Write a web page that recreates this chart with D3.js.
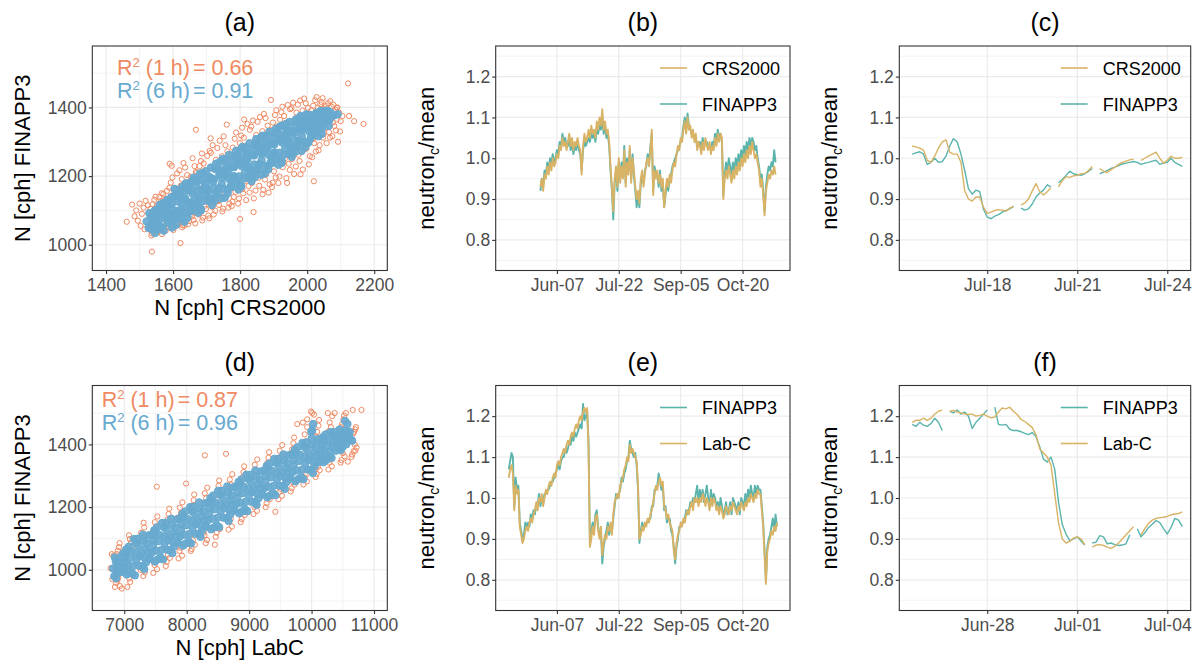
<!DOCTYPE html>
<html>
<head>
<meta charset="utf-8">
<title>Neutron counts: FINAPP3 vs CRS2000 and Lab-C</title>
<script src="https://cdn.jsdelivr.net/npm/d3@7"></script>
<style>
  body { margin: 0; background: #fff; }
  svg text { font-family: "Liberation Sans", Arial, sans-serif; }
</style>
</head>
<body>
<svg id="fig" width="1198" height="669"></svg>
<script>
// ---------------- data ----------------
// (a) hourly and 6-hourly counts, [CRS2000, FINAPP3]
const finVsCrs1h = [
  [1462,1067],[1478,1117],[1485,1083],[1490,1100],[1495,1070],[1500,1120],[1503,1055],[1507,1090],[1512,1108],[1515,1045],
  [1518,1128],[1537,980],[1525,1115],[1596,1230],[1590,1236],[1622,1005],[1668,1335],[1712,1310],[1760,1350],[1800,1075],
  [1812,1365],[1840,1095],[1892,1422],[2020,1185],[1940,1180],[1980,1205],
  [2090,1400],[2095,1385],[2092,1300],[2100,1360],[2105,1375],[2122,1470],[2125,1375],[2140,1360],[2168,1352],[2088,1365],[2098,1330],
  [1533,1105],[1544,1131],[1538,1118],[1548,1140],[1541,1038],[1535,1027],[1546,1045],[1537,1033],
  [1563,1127],[1552,1113],[1566,1150],[1559,1139],[1554,1046],[1567,1031],[1557,1039],[1569,1054],
  [1576,1131],[1589,1166],[1571,1148],[1582,1157],[1585,1052],[1578,1041],[1588,1060],[1574,1047],
  [1593,1181],[1604,1150],[1598,1196],[1608,1163],[1601,1043],[1595,1066],[1606,1054],[1597,1049],
  [1623,1172],[1612,1208],[1626,1191],[1619,1217],[1614,1063],[1627,1051],[1617,1074],[1629,1057],
  [1636,1225],[1649,1184],[1631,1238],[1642,1203],[1645,1060],[1638,1080],[1648,1069],[1634,1056],
  [1653,1198],[1664,1229],[1658,1252],[1668,1212],[1661,1072],[1655,1090],[1666,1062],[1657,1083],
  [1683,1244],[1672,1211],[1686,1266],[1679,1229],[1674,1099],[1687,1071],[1677,1088],[1689,1079],
  [1696,1218],[1709,1273],[1691,1237],[1702,1259],[1705,1085],[1698,1104],[1708,1077],[1694,1113],
  [1713,1268],[1724,1229],[1718,1290],[1728,1248],[1721,1088],[1715,1122],[1726,1099],[1717,1110],
  [1743,1240],[1732,1282],[1746,1258],[1739,1303],[1734,1127],[1747,1097],[1737,1116],[1749,1105],
  [1756,1290],[1769,1252],[1751,1316],[1762,1272],[1765,1108],[1758,1138],[1768,1120],[1754,1148],
  [1773,1262],[1784,1309],[1778,1283],[1788,1327],[1781,1139],[1775,1113],[1786,1154],[1777,1126],
  [1803,1318],[1792,1276],[1806,1341],[1799,1296],[1794,1120],[1807,1162],[1797,1135],[1809,1150],
  [1816,1288],[1829,1335],[1811,1312],[1822,1352],[1825,1171],[1818,1130],[1828,1152],[1814,1185],
  [1833,1344],[1844,1299],[1838,1362],[1848,1320],[1841,1135],[1835,1180],[1846,1158],[1837,1194],
  [1863,1308],[1852,1358],[1866,1331],[1859,1372],[1854,1195],[1867,1147],[1857,1172],[1869,1160],
  [1876,1369],[1889,1322],[1871,1381],[1882,1347],[1885,1152],[1878,1206],[1888,1176],[1874,1190],
  [1893,1334],[1904,1378],[1898,1356],[1908,1392],[1901,1214],[1895,1168],[1906,1196],[1897,1181],
  [1923,1386],[1912,1345],[1926,1402],[1919,1364],[1914,1180],[1927,1226],[1917,1199],[1929,1239],
  [1936,1355],[1949,1395],[1931,1375],[1942,1407],[1945,1236],[1938,1194],[1948,1218],[1934,1252],
  [1953,1398],[1964,1366],[1958,1414],[1968,1385],[1961,1206],[1955,1250],[1966,1228],[1957,1262],
  [1983,1374],[1972,1408],[1986,1391],[1979,1420],[1974,1262],[1987,1219],[1977,1244],[1989,1276],
  [1996,1412],[2009,1382],[1991,1426],[2002,1399],[2005,1234],[1998,1280],[2008,1258],[1994,1292],
  [2013,1391],[2024,1421],[2018,1405],[2028,1430],[2021,1296],[2015,1255],[2026,1272],[2017,1308],
  [2043,1416],[2032,1400],[2046,1427],[2039,1409],[2034,1275],[2047,1312],[2037,1290],[2049,1322],
  [2056,1404],[2069,1418],[2051,1396],[2062,1412],[2065,1328],[2058,1296],[2068,1312],[2054,1340],
  [2073,1402],[2084,1394],[2078,1408],[2088,1399],[2081,1346],[2075,1316],[2086,1333],[2077,1356]
];
const finVsCrs6h = [
  [1521,1068],[1527,1049],[1533,1083],[1536,1058],[1529,1092],[1540,1071],
  [1546,1034],[1552,1061],[1549,1088],[1557,1103],[1543,1074],[1555,1046],
  [1563,1052],[1569,1121],[1574,1076],[1577,1098],[1566,1106],[1572,1041],[1561,1085],
  [1584,1063],[1595,1139],[1588,1092],[1598,1071],[1591,1117],[1583,1131],[1597,1050],
  [1603,1078],[1617,1152],[1607,1099],[1614,1126],[1609,1058],[1619,1085],[1604,1163],
  [1626,1091],[1634,1067],[1622,1144],[1638,1112],[1629,1170],[1636,1135],[1624,1104],
  [1643,1079],[1655,1121],[1647,1178],[1658,1149],[1651,1098],[1645,1160],[1657,1186],
  [1664,1118],[1675,1093],[1668,1171],[1677,1137],[1662,1196],[1672,1155],[1679,1108],
  [1683,1104],[1694,1145],[1687,1209],[1697,1178],[1689,1127],[1681,1188],[1699,1160],
  [1704,1139],[1716,1116],[1708,1198],[1713,1225],[1702,1164],[1719,1183],[1706,1131],
  [1724,1128],[1735,1162],[1728,1236],[1738,1205],[1722,1190],[1733,1148],[1740,1219],
  [1745,1177],[1754,1137],[1748,1250],[1757,1215],[1742,1206],[1752,1162],[1760,1231],
  [1763,1150],[1774,1187],[1767,1262],[1778,1229],[1765,1213],[1772,1171],[1780,1244],
  [1784,1198],[1795,1161],[1788,1274],[1797,1240],[1782,1226],[1792,1183],[1799,1256],
  [1803,1172],[1814,1210],[1807,1285],[1818,1251],[1801,1236],[1812,1193],[1820,1268],
  [1825,1224],[1834,1185],[1828,1296],[1838,1262],[1822,1249],[1832,1207],[1840,1279],
  [1844,1197],[1855,1233],[1848,1308],[1858,1274],[1842,1260],[1852,1218],[1860,1290],
  [1864,1246],[1874,1208],[1867,1318],[1877,1284],[1862,1270],[1871,1229],[1880,1300],
  [1884,1220],[1894,1256],[1887,1329],[1897,1296],[1882,1282],[1891,1240],[1899,1312],
  [1903,1268],[1914,1233],[1907,1338],[1917,1306],[1902,1292],[1911,1252],[1920,1322],
  [1924,1244],[1934,1280],[1927,1348],[1937,1317],[1922,1304],[1931,1262],[1940,1333],
  [1944,1291],[1954,1256],[1947,1358],[1957,1328],[1942,1314],[1951,1274],[1960,1343],
  [1964,1270],[1974,1303],[1967,1366],[1977,1338],[1962,1325],[1971,1288],[1980,1353],
  [1984,1316],[1994,1284],[1987,1372],[1997,1348],[1982,1336],[1991,1300],[2000,1362],
  [2003,1297],[2014,1327],[2007,1378],[2017,1357],[2002,1345],[2011,1312],[2020,1368],
  [2024,1340],[2034,1316],[2027,1384],[2037,1366],[2022,1352],[2031,1328],[2040,1375],
  [2044,1338],[2054,1358],[2047,1388],[2057,1372],[2042,1350],[2060,1380],
  [2066,1362],[2075,1374],[2069,1386],[2082,1378],[2091,1380],[2062,1368],
  [1534,1046],[1542,1065],[1537,1082],[1545,1099],[1547,1054],
  [1556,1070],[1565,1088],[1552,1103],[1563,1052],[1560,1116],
  [1573,1096],[1584,1072],[1580,1111],[1586,1090],[1578,1124],
  [1594,1072],[1602,1098],[1597,1120],[1605,1143],[1607,1084],
  [1616,1099],[1625,1123],[1612,1144],[1623,1075],[1620,1161],
  [1633,1133],[1644,1093],[1640,1157],[1646,1123],[1638,1179],
  [1654,1098],[1662,1130],[1657,1158],[1665,1186],[1667,1112],
  [1676,1130],[1685,1160],[1672,1186],[1683,1100],[1680,1207],
  [1693,1168],[1704,1128],[1700,1192],[1706,1158],[1698,1214],
  [1714,1133],[1722,1165],[1717,1193],[1725,1221],[1727,1147],
  [1736,1165],[1745,1195],[1732,1221],[1743,1135],[1740,1242],
  [1753,1202],[1764,1162],[1760,1226],[1766,1192],[1758,1248],
  [1774,1168],[1782,1200],[1777,1228],[1785,1256],[1787,1182],
  [1796,1199],[1805,1229],[1792,1255],[1803,1169],[1800,1276],
  [1813,1237],[1824,1197],[1820,1261],[1826,1227],[1818,1283],
  [1834,1202],[1842,1234],[1837,1262],[1845,1290],[1847,1216],
  [1856,1234],[1865,1264],[1852,1290],[1863,1204],[1860,1311],
  [1873,1271],[1884,1231],[1880,1295],[1886,1261],[1878,1317],
  [1894,1237],[1902,1269],[1897,1297],[1905,1325],[1907,1251],
  [1916,1268],[1925,1298],[1912,1324],[1923,1238],[1920,1345],
  [1933,1306],[1944,1266],[1940,1330],[1946,1296],[1938,1352],
  [1954,1271],[1962,1303],[1957,1331],[1965,1359],[1967,1285],
  [1976,1303],[1985,1333],[1972,1359],[1983,1273],[1980,1375],
  [1993,1340],[2004,1300],[2000,1364],[2006,1330],[1998,1380],
  [2014,1319],[2022,1341],[2017,1361],[2025,1380],[2027,1328],
  [2036,1344],[2045,1365],[2032,1383],[2043,1323],[2040,1390],
  [2053,1374],[2064,1346],[2060,1391],[2066,1367],[2058,1388]
];

// (d) hourly and 6-hourly counts, [LabC, FINAPP3]
const finVsLab1h = [
  [6780,1005],[6800,1050],[6810,970],[6830,1045],[6850,945],[6960,940],[7050,945],[7520,1265],[7990,1275],[8290,1365],
  [8450,1080],[8630,1370],[9420,1185],[9770,1465],[9860,1470],[10010,1500],[9990,1505],[10060,1320],[10260,1500],[10370,1500],
  [10550,1500],[10660,1510],[10800,1510],[10700,1380],[10640,1360],[10580,1345],[10040,1495],[9930,1480],
  [6880,1050],[6915,1072],[6895,1061],[6925,1085],[6905,975],[6870,958],[6930,948],[6890,966],
  [7110,1088],[7075,1110],[7125,1076],[7090,1098],[7080,972],[7120,990],[7095,961],[7135,982],
  [7285,1102],[7320,1135],[7270,1118],[7310,1150],[7330,992],[7280,1005],[7305,980],[7260,1000],
  [7510,1138],[7470,1125],[7530,1170],[7490,1152],[7485,1015],[7525,1002],[7500,1025],[7465,990],
  [7690,1160],[7720,1195],[7675,1148],[7710,1178],[7730,1038],[7680,1025],[7700,1048],[7665,1012],
  [7910,1182],[7875,1168],[7930,1215],[7890,1198],[7885,1060],[7925,1045],[7905,1070],[7870,1036],
  [8090,1205],[8120,1240],[8075,1192],[8110,1222],[8130,1080],[8080,1066],[8100,1094],[8065,1060],
  [8310,1228],[8275,1212],[8330,1262],[8290,1244],[8285,1110],[8325,1095],[8305,1085],[8270,1118],
  [8490,1250],[8520,1285],[8475,1238],[8510,1268],[8530,1130],[8480,1118],[8500,1140],[8465,1105],
  [8710,1272],[8675,1258],[8730,1305],[8690,1288],[8685,1155],[8725,1138],[8705,1162],[8670,1128],
  [8890,1295],[8920,1330],[8875,1282],[8910,1312],[8930,1175],[8880,1162],[8900,1185],[8865,1152],
  [9110,1318],[9075,1302],[9130,1352],[9090,1335],[9085,1200],[9125,1188],[9105,1210],[9070,1178],
  [9290,1340],[9320,1375],[9275,1328],[9310,1358],[9330,1225],[9280,1212],[9300,1236],[9265,1200],
  [9510,1362],[9475,1348],[9530,1398],[9490,1380],[9485,1248],[9525,1236],[9505,1258],[9470,1225],
  [9690,1385],[9720,1422],[9675,1372],[9710,1404],[9730,1272],[9680,1260],[9700,1280],[9665,1250],
  [9910,1410],[9875,1396],[9930,1455],[9890,1432],[9885,1295],[9925,1282],[9905,1302],[9870,1272],
  [10090,1440],[10120,1478],[10075,1425],[10110,1460],[10130,1318],[10080,1306],[10100,1328],[10065,1296],
  [10310,1455],[10275,1442],[10330,1490],[10290,1470],[10285,1342],[10325,1330],[10305,1352],[10270,1320],
  [10490,1465],[10520,1492],[10475,1455],[10510,1480],[10530,1362],[10480,1350],[10500,1372],[10465,1342],
  [10680,1440],[10710,1455],[10665,1435],[10700,1448],[10720,1390],[10675,1378],[10690,1400],[10650,1368]
];
const finVsLab6h = [
  [6820,1004],[6840,979],[6865,1027],[6880,994],[6850,1039],[6890,1012],[6870,973],
  [6960,993],[6985,1053],[7010,1025],[7030,1065],[6995,1009],[7040,985],[7015,1039],
  [7115,1060],[7145,1012],[7170,982],[7185,1085],[7155,1098],[7195,1032],[7130,988],
  [7270,1054],[7290,1012],[7315,1092],[7330,1037],[7300,1112],[7340,1067],[7320,1002],
  [7410,1036],[7435,1111],[7460,1076],[7480,1126],[7445,1056],[7490,1026],[7465,1094],
  [7565,1111],[7595,1063],[7620,1033],[7635,1136],[7605,1149],[7645,1083],[7580,1039],
  [7720,1105],[7740,1063],[7765,1143],[7780,1088],[7750,1163],[7790,1118],[7770,1053],
  [7860,1087],[7885,1162],[7910,1127],[7930,1177],[7895,1107],[7940,1077],[7915,1145],
  [8015,1162],[8045,1114],[8070,1084],[8085,1187],[8055,1200],[8095,1134],[8030,1090],
  [8170,1157],[8190,1115],[8215,1195],[8230,1140],[8200,1215],[8240,1170],[8220,1105],
  [8310,1139],[8335,1214],[8360,1179],[8380,1229],[8345,1159],[8390,1129],[8365,1197],
  [8465,1214],[8495,1166],[8520,1136],[8535,1239],[8505,1252],[8545,1186],[8480,1142],
  [8620,1208],[8640,1166],[8665,1246],[8680,1191],[8650,1266],[8690,1221],[8670,1156],
  [8760,1190],[8785,1265],[8810,1230],[8830,1280],[8795,1210],[8840,1180],[8815,1248],
  [8915,1265],[8945,1217],[8970,1187],[8985,1290],[8955,1303],[8995,1237],[8930,1193],
  [9070,1259],[9090,1217],[9115,1297],[9130,1242],[9100,1317],[9140,1272],[9120,1207],
  [9210,1241],[9235,1316],[9260,1281],[9280,1331],[9245,1261],[9290,1231],[9265,1299],
  [9365,1316],[9395,1268],[9420,1238],[9435,1341],[9405,1354],[9445,1288],[9380,1244],
  [9520,1310],[9540,1268],[9565,1348],[9580,1293],[9550,1368],[9590,1323],[9570,1258],
  [9660,1292],[9685,1367],[9710,1332],[9730,1382],[9695,1312],[9740,1282],[9715,1350],
  [9815,1367],[9845,1319],[9870,1289],[9885,1392],[9855,1405],[9895,1339],[9830,1295],
  [9970,1361],[9990,1319],[10015,1399],[10030,1344],[10000,1419],[10040,1374],[10020,1309],[10010,1445],[10025,1465],[9995,1440],
  [10110,1351],[10135,1411],[10160,1383],[10180,1423],[10145,1367],[10190,1343],[10165,1397],
  [10265,1412],[10295,1378],[10320,1357],[10335,1430],[10305,1439],[10345,1392],[10280,1362],
  [10420,1413],[10440,1388],[10465,1436],[10480,1403],[10450,1448],[10490,1421],[10470,1382],
  [10540,1410],[10560,1438],[10590,1428],[10620,1418],[10650,1412],[10575,1465],[10535,1475],[10610,1440],
  [6900,990],[6930,1009],[6915,1026],[6945,1041],[6955,997],
  [7060,1014],[7095,1038],[7045,1059],[7085,992],[7075,1074],
  [7195,1054],[7240,1013],[7225,1077],[7250,1044],[7215,1099],
  [7350,1024],[7380,1056],[7365,1084],[7395,1110],[7405,1036],
  [7510,1061],[7545,1091],[7495,1117],[7535,1033],[7525,1135],
  [7645,1105],[7690,1064],[7675,1128],[7700,1095],[7665,1150],
  [7800,1075],[7830,1107],[7815,1135],[7845,1161],[7855,1087],
  [7960,1112],[7995,1142],[7945,1168],[7985,1084],[7975,1186],
  [8095,1156],[8140,1115],[8125,1179],[8150,1146],[8115,1201],
  [8250,1126],[8280,1158],[8265,1186],[8295,1212],[8305,1138],
  [8410,1163],[8445,1193],[8395,1219],[8435,1135],[8425,1237],
  [8545,1207],[8590,1166],[8575,1230],[8600,1197],[8565,1252],
  [8700,1177],[8730,1209],[8715,1237],[8745,1263],[8755,1189],
  [8860,1214],[8895,1244],[8845,1270],[8885,1186],[8875,1288],
  [8995,1258],[9040,1217],[9025,1281],[9050,1248],[9015,1303],
  [9150,1228],[9180,1260],[9165,1288],[9195,1314],[9205,1240],
  [9310,1265],[9345,1295],[9295,1321],[9335,1237],[9325,1339],
  [9445,1309],[9490,1268],[9475,1332],[9500,1299],[9465,1354],
  [9600,1280],[9630,1312],[9615,1340],[9645,1366],[9655,1292],
  [9760,1317],[9795,1347],[9745,1373],[9785,1289],[9775,1391],
  [9895,1361],[9940,1320],[9925,1384],[9950,1351],[9915,1406],
  [10050,1331],[10080,1363],[10065,1391],[10095,1417],[10105,1343],
  [10210,1372],[10245,1396],[10195,1417],[10235,1350],[10225,1432],
  [10345,1409],[10390,1380],[10375,1425],[10400,1402],[10365,1440],
  [10500,1393],[10530,1412],[10515,1429],[10545,1444],[10555,1400]
];

// (b) daily normalised counts, day 0 = Jun-07, first value at day -12
const bStartDay = -12;
const bCRS2000 = [
  0.93,0.95,0.92,0.96,0.95,0.98,0.96,0.99,0.97,1.00,
  0.98,0.99,1.01,1.00,1.03,1.02,1.05,1.03,1.04,1.02,
  1.04,1.06,1.03,1.05,1.02,1.04,1.03,1.05,1.03,1.02,
  0.96,1.03,1.06,1.04,1.05,1.07,1.05,1.08,1.06,1.07,
  1.05,1.09,1.07,1.10,1.08,1.12,1.07,1.09,1.06,1.07,
  1.04,0.98,0.93,0.87,0.95,0.98,0.93,1.00,0.94,0.98,
  0.95,1.02,0.93,0.99,0.96,1.03,0.94,1.00,0.97,0.93,
  0.90,0.92,0.89,0.95,0.97,0.93,0.96,0.99,1.00,0.98,
  1.02,1.07,0.91,0.97,0.95,0.97,0.94,0.96,0.93,0.95,
  0.88,0.92,0.95,0.93,0.96,0.94,0.97,0.99,0.98,1.01,
  1.03,1.02,1.05,1.04,1.07,1.09,1.06,1.10,1.07,1.08,
  1.05,1.07,1.04,1.06,1.02,1.04,1.03,1.01,1.04,1.02,
  1.05,1.03,1.02,1.04,1.01,1.03,1.02,1.05,1.03,1.06,
  1.04,1.06,1.05,0.90,0.95,0.97,0.95,0.98,0.96,0.94,
  0.97,0.95,0.98,0.96,0.99,0.97,1.00,0.98,1.01,0.99,
  1.02,1.00,1.03,1.01,1.04,1.02,1.00,1.01,0.99,0.97,
  0.93,0.95,0.91,0.86,0.92,0.94,0.96,0.95,0.97,0.96,
  0.98,0.96
];
const bFINAPP3 = [
  0.92,0.95,0.93,0.97,0.96,0.99,0.97,1.00,0.99,1.01,
  0.99,1.00,1.02,1.01,1.04,1.03,1.06,1.04,1.05,1.03,
  1.03,1.05,1.02,1.04,1.01,1.03,1.02,1.04,1.02,1.01,
  0.97,1.02,1.04,1.03,1.04,1.05,1.04,1.06,1.05,1.06,
  1.04,1.07,1.06,1.08,1.07,1.10,1.06,1.08,1.05,1.06,
  1.03,0.97,0.92,0.85,0.94,0.97,0.92,0.99,0.95,0.99,
  0.96,1.03,0.94,1.00,0.97,1.02,0.95,1.01,0.96,0.92,
  0.88,0.91,0.88,0.94,0.96,0.94,0.97,0.98,1.01,0.99,
  1.03,1.06,0.92,0.98,0.96,0.96,0.93,0.97,0.92,0.94,
  0.88,0.91,0.94,0.92,0.95,0.96,0.98,0.99,1.00,1.01,
  1.02,1.03,1.04,1.05,1.08,1.10,1.07,1.11,1.08,1.07,
  1.06,1.06,1.05,1.05,1.03,1.03,1.04,1.02,1.05,1.03,
  1.04,1.04,1.03,1.03,1.02,1.04,1.03,1.06,1.04,1.07,
  1.05,1.06,1.04,0.91,0.96,0.99,0.97,1.00,0.98,0.96,
  0.99,0.97,1.00,0.98,1.01,0.99,1.02,1.00,1.03,1.01,
  1.04,1.02,1.05,1.03,1.05,1.04,1.02,1.03,1.00,0.98,
  0.95,0.96,0.92,0.87,0.93,0.96,0.98,0.97,0.99,0.98,
  1.02,0.99
];

// (e) day 0 = Jun-07, first value at day -35
const eStartDay = -35;
const eFINAPP3 = [
  1.07,1.09,1.11,1.10,0.98,1.05,1.02,1.03,0.94,0.92,
  0.90,0.91,0.94,0.93,0.94,0.93,0.96,0.95,0.97,0.96,
  0.98,0.98,1.01,0.98,1.00,0.99,1.01,1.01,1.02,1.02,
  1.03,1.04,1.04,1.05,1.06,1.07,1.08,1.07,1.09,1.10,
  1.10,1.12,1.11,1.12,1.14,1.13,1.15,1.14,1.16,1.15,
  1.16,1.17,1.18,1.17,1.23,1.19,1.20,1.21,1.14,0.89,
  0.92,0.94,0.92,0.96,0.97,0.93,0.91,0.92,0.84,0.88,
  0.90,0.92,0.94,0.91,0.93,0.92,0.95,0.98,1.01,1.00,
  1.01,1.02,1.05,1.04,1.06,1.07,1.09,1.10,1.14,1.12,
  1.11,1.10,1.11,1.08,1.02,0.89,0.92,0.94,0.93,0.93,
  0.94,0.94,0.95,0.95,0.98,0.98,1.02,1.02,1.03,1.06,
  1.04,1.02,1.03,0.97,0.98,0.94,0.95,0.95,0.92,0.91,
  0.88,0.84,0.88,0.90,0.93,0.93,0.94,0.94,0.95,0.97,
  0.96,0.97,0.99,0.98,1.00,0.99,1.01,1.03,0.99,1.02,
  1.00,1.02,0.99,1.01,1.03,1.00,0.98,1.02,0.99,1.01,
  1.00,0.98,0.99,0.97,1.00,0.98,0.96,0.97,0.99,0.96,
  0.97,0.99,0.96,1.00,0.99,0.98,0.97,0.99,0.96,1.00,
  0.99,0.98,1.01,0.99,1.02,1.00,1.03,1.01,1.00,1.03,
  1.01,1.03,1.02,1.02,0.98,0.94,0.87,0.80,0.88,0.90,
  0.91,0.93,0.95,0.92,0.96,0.93
];
const eLabC = [
  1.05,1.07,1.08,1.06,0.97,1.03,1.01,1.02,0.93,0.91,
  0.89,0.90,0.92,0.93,0.92,0.94,0.95,0.94,0.96,0.97,
  0.99,0.97,1.00,0.99,1.01,0.98,1.00,1.02,1.01,1.03,
  1.04,1.03,1.05,1.06,1.05,1.08,1.09,1.08,1.10,1.11,
  1.12,1.11,1.13,1.14,1.13,1.15,1.16,1.15,1.17,1.18,
  1.17,1.19,1.20,1.19,1.21,1.22,1.21,1.22,1.12,0.88,
  0.90,0.93,0.91,0.95,0.96,0.92,0.90,0.93,0.86,0.89,
  0.91,0.90,0.93,0.92,0.94,0.91,0.96,0.99,1.00,1.01,
  1.00,1.03,1.04,1.05,1.07,1.08,1.10,1.09,1.13,1.11,
  1.12,1.11,1.10,1.09,1.03,0.90,0.91,0.93,0.92,0.94,
  0.93,0.95,0.94,0.96,0.97,0.99,1.01,1.03,1.02,1.04,
  1.05,1.03,1.04,0.98,0.97,0.95,0.96,0.94,0.93,0.92,
  0.87,0.85,0.89,0.91,0.92,0.94,0.93,0.95,0.94,0.96,
  0.97,0.96,0.98,0.99,0.97,1.00,0.99,1.00,0.98,1.00,
  0.99,1.01,1.00,0.98,1.00,0.99,0.97,1.00,0.98,1.00,
  0.99,0.97,0.98,0.96,0.98,0.97,0.95,0.96,0.98,0.97,
  0.96,0.98,0.97,0.99,0.98,0.97,0.96,0.98,0.97,0.99,
  0.98,0.97,0.99,0.98,1.00,0.99,1.01,1.00,0.99,1.01,
  1.00,1.02,1.01,1.01,0.97,0.93,0.86,0.79,0.87,0.89,
  0.90,0.92,0.91,0.93,0.92,0.94
];

// (c) 3-hourly, day 0 = Jul-18, first value at day -2.5 (null = gap)
const cStartDay = -2.5;
const cCRS2000 = [
  1.030,1.028,1.025,1.020,0.995,0.990,1.005,1.025,1.040,1.045,
  1.015,1.010,1.010,0.990,0.920,0.900,0.895,0.905,0.905,0.880,
  0.865,0.868,0.872,0.874,0.873,0.870,0.878,0.882,null,0.886,
  0.890,0.900,0.920,0.938,0.918,0.910,0.918,0.928,null,0.930,
  0.945,0.955,0.953,0.957,0.958,0.962,0.963,0.970,0.980,null,
  0.975,0.968,0.965,0.972,0.978,0.985,0.990,0.993,0.996,0.998,
  null,0.995,1.000,1.005,1.010,1.015,1.000,0.988,0.995,1.005,
  1.000,1.000,1.002
];
const cFINAPP3 = [
  1.010,1.013,1.016,1.010,0.985,0.990,1.000,0.990,0.992,1.005,
  1.030,1.048,1.040,1.010,0.970,0.925,0.912,0.922,0.918,0.875,
  0.856,0.852,0.858,0.862,0.868,0.872,0.876,0.882,null,0.878,
  0.873,0.876,0.888,0.905,0.915,0.922,0.935,0.930,null,0.940,
  0.948,0.958,0.968,0.962,0.960,0.958,0.962,0.968,0.975,null,
  0.962,0.966,0.970,0.975,0.978,0.982,0.986,0.988,0.990,0.992,
  0.990,0.985,0.988,0.990,0.993,0.995,0.985,0.988,0.990,1.000,
  0.990,0.985,0.980
];

// (f) 3-hourly, day 0 = Jun-28, first value at day -2.5
const fStartDay = -2.5;
const fFINAPP3 = [
  1.180,1.175,1.185,1.178,1.175,1.182,1.195,1.185,1.165,null,
  1.212,1.208,1.215,1.205,1.210,1.200,1.170,1.185,1.195,1.205,
  1.215,null,1.222,1.180,1.178,1.180,1.168,1.165,1.165,1.162,
  1.158,1.155,1.160,1.150,1.125,1.095,1.088,1.100,1.070,0.990,
  0.935,0.912,0.895,0.900,0.905,0.895,0.885,null,0.890,0.892,
  0.908,0.905,0.888,0.890,0.886,0.884,0.885,0.888,0.910,null,
  0.925,0.905,0.915,0.928,0.936,0.945,0.940,0.925,0.912,0.928,
  0.950,0.946,0.930
];
const fLabC = [
  1.185,1.190,1.190,1.195,1.190,1.195,1.205,1.212,1.215,null,
  1.212,1.214,1.210,1.208,1.205,1.204,1.205,1.200,1.202,1.205,
  1.200,1.196,1.198,1.210,1.220,1.218,1.222,1.212,1.204,1.192,
  1.187,1.180,1.172,1.155,1.120,1.110,1.100,1.080,1.010,0.940,
  0.900,0.890,0.894,0.902,0.905,0.900,0.886,null,0.880,0.885,
  0.886,0.884,0.880,0.877,0.882,0.890,0.900,0.910,0.920,0.930,
  null,0.910,0.925,0.938,0.946,0.950,0.952,0.953,0.955,0.959,
  0.961,0.962,0.966
];

// tick labels / breaks
const ratioTicks = [0.8, 0.9, 1.0, 1.1, 1.2];
const ratioMinor = [0.75, 0.85, 0.95, 1.05, 1.15, 1.25];
const seasonTicks = ['Jun-07', 'Jul-22', 'Sep-05', 'Oct-20'];
const cTicks = ['Jul-18', 'Jul-21', 'Jul-24'];
const fTicks = ['Jun-28', 'Jul-01', 'Jul-04'];

// ---------------- drawing ----------------
const col1h = '#ef8a62', col6h = '#67a9cf';
const colTan = '#d8b365', colTeal = '#5ab4ac';
const gridCol = '#ebebeb';
const svg = d3.select('#fig');

const parseTick = d3.timeParse('%Y-%b-%d');
const fmtTick = d3.timeFormat('%b-%d');
function dayDate(base, d) { return new Date(base.getTime() + d * 864e5); }

function frame(g, x, y, xMajor, xMinor, yMajor, yMinor) {
  const [x0, x1] = x.range(), [y0, y1] = y.range();
  const grid = g.append('g');
  grid.selectAll('.vmin').data(xMinor).join('line')
    .attr('x1', d => x(d)).attr('x2', d => x(d)).attr('y1', y0).attr('y2', y1)
    .attr('stroke', gridCol).attr('stroke-width', 0.6);
  grid.selectAll('.hmin').data(yMinor).join('line')
    .attr('x1', x0).attr('x2', x1).attr('y1', d => y(d)).attr('y2', d => y(d))
    .attr('stroke', gridCol).attr('stroke-width', 0.6);
  grid.selectAll('.vmaj').data(xMajor).join('line')
    .attr('x1', d => x(d)).attr('x2', d => x(d)).attr('y1', y0).attr('y2', y1)
    .attr('stroke', gridCol).attr('stroke-width', 1.2);
  grid.selectAll('.hmaj').data(yMajor).join('line')
    .attr('x1', x0).attr('x2', x1).attr('y1', d => y(d)).attr('y2', d => y(d))
    .attr('stroke', gridCol).attr('stroke-width', 1.2);
}

function axes(g, x, y, xAxis, yAxis) {
  const [x0, x1] = x.range(), [yb, yt] = y.range();
  g.append('rect').attr('x', x0).attr('y', yt).attr('width', x1 - x0).attr('height', yb - yt)
    .attr('fill', 'none').attr('stroke', '#333').attr('stroke-width', 1.1);
  const ax = g.append('g').attr('transform', `translate(0,${yb})`).call(xAxis);
  const ay = g.append('g').attr('transform', `translate(${x0},0)`).call(yAxis);
  [ax, ay].forEach(a => {
    a.select('.domain').remove();
    a.selectAll('line').attr('stroke', '#333').attr('stroke-width', 1.1);
    a.selectAll('text').attr('fill', '#4d4d4d').style('font-size', '17.5px')
      .style('font-family', '"Liberation Sans", Arial, sans-serif');
  });
}

function title(txt, cx, by) {
  svg.append('text').attr('x', cx).attr('y', by).attr('text-anchor', 'middle')
    .style('font-size', '25px').attr('fill', '#000').text(txt);
}

function scatterPanel(o) {
  const g = svg.append('g');
  const x = d3.scaleLinear().domain(o.xDomain).range([o.left, o.right]);
  const y = d3.scaleLinear().domain(o.yDomain).range([o.bottom, o.top]);
  frame(g, x, y, o.xTicks, o.xMinor, o.yTicks, o.yMinor);

  g.append('g').selectAll('circle').data(o.hourly).join('circle')
    .attr('cx', d => x(d[0])).attr('cy', d => y(d[1])).attr('r', 2.6)
    .attr('fill', 'none').attr('stroke', col1h).attr('stroke-width', 1);
  g.append('g').selectAll('circle').data(o.sixHourly).join('circle')
    .attr('cx', d => x(d[0])).attr('cy', d => y(d[1])).attr('r', 3.7)
    .attr('fill', col6h).attr('fill-opacity', 0.92)
    .attr('stroke', col6h).attr('stroke-width', 1);

  axes(g,
    x, y,
    d3.axisBottom(x).tickValues(o.xTicks).tickSize(3.5).tickPadding(4.5).tickFormat(d3.format('d')),
    d3.axisLeft(y).tickValues(o.yTicks).tickSize(3.5).tickPadding(2).tickFormat(d3.format('d')));

  // R^2 annotations
  o.r2.forEach((r, i) => {
    const t = g.append('text').attr('x', o.r2x).attr('y', o.r2y + i * 22.5)
      .attr('fill', i === 0 ? col1h : col6h).style('font-size', '21.5px');
    t.append('tspan').text('R');
    t.append('tspan').attr('dy', -8).style('font-size', '13px').text('2');
    t.append('tspan').attr('dy', 8).text(` (${r[0]})`);
    t.append('tspan').attr('dx', 3).text(`= ${r[1]}`);
  });

  title(o.title, (o.left + o.right) / 2, o.top - 15);
  svg.append('text').attr('x', (o.left + o.right) / 2).attr('y', o.bottom + 44)
    .attr('text-anchor', 'middle').style('font-size', '22px').text(o.xLabel);
  svg.append('text').attr('transform', `translate(30,${(o.top + o.bottom) / 2}) rotate(-90)`)
    .attr('text-anchor', 'middle').style('font-size', '22px').text(o.yLabel);
}

function timePanel(o) {
  const g = svg.append('g');
  const x = d3.scaleTime().domain([dayDate(o.base, o.dayDomain[0]), dayDate(o.base, o.dayDomain[1])])
    .range([o.left, o.right]);
  const y = d3.scaleLinear().domain([0.725, 1.275]).range([o.bottom, o.top]);
  const tickDates = o.ticks.map(t => parseTick('2021-' + t));
  frame(g, x, y, tickDates, [], ratioTicks, ratioMinor);

  const line = d3.line()
    .defined(d => d.v !== null)
    .x(d => x(d.t)).y(d => y(d.v));
  o.series.forEach(s => {
    const pts = s.values.map((v, i) => ({ t: dayDate(o.base, o.start + i * o.step), v: v }));
    g.append('path').datum(pts).attr('d', line)
      .attr('fill', 'none').attr('stroke', s.color).attr('stroke-width', o.lineWidth)
      .attr('stroke-linejoin', 'round');
  });

  axes(g, x, y,
    d3.axisBottom(x).tickValues(tickDates).tickSize(3.5).tickPadding(4.5).tickFormat(fmtTick),
    d3.axisLeft(y).tickValues(ratioTicks).tickSize(3.5).tickPadding(2).tickFormat(d3.format('.1f')));

  // legend
  o.legend.forEach((s, i) => {
    const ly = o.top + 22 + i * 36;
    g.append('line').attr('x1', o.right - 130).attr('x2', o.right - 103).attr('y1', ly).attr('y2', ly)
      .attr('stroke', s.color).attr('stroke-width', 1.6);
    g.append('text').attr('x', o.right - 88).attr('y', ly + 6.5)
      .style('font-size', '18px').attr('fill', '#000').text(s.name);
  });

  title(o.title, (o.left + o.right) / 2, o.top - 15);
  const lab = svg.append('text')
    .attr('transform', `translate(${o.left - 62},${(o.top + o.bottom) / 2}) rotate(-90)`)
    .attr('text-anchor', 'middle').style('font-size', '22px');
  lab.append('tspan').text('neutron');
  lab.append('tspan').attr('dy', 5).style('font-size', '14px').text('c');
  lab.append('tspan').attr('dy', -5).text('/mean');
}

const row1 = { top: 46, bottom: 270.5 }, row2 = { top: 385.5, bottom: 610.5 };
const colA = { left: 92.3, right: 387.3 }, colB = { left: 495.7, right: 790 }, colC = { left: 899.3, right: 1190.7 };

scatterPanel(Object.assign({}, row1, colA, {
  title: '(a)', xLabel: 'N [cph] CRS2000', yLabel: 'N [cph] FINAPP3',
  xDomain: [1359, 2239], yDomain: [925, 1579],
  xTicks: [1400, 1600, 1800, 2000, 2200], xMinor: [1500, 1700, 1900, 2100],
  yTicks: [1000, 1200, 1400], yMinor: [1100, 1300, 1500],
  hourly: finVsCrs1h, sixHourly: finVsCrs6h,
  r2: [['1 h', '0.66'], ['6 h', '0.91']], r2x: 117, r2y: 75
}));
scatterPanel(Object.assign({}, row2, colA, {
  title: '(d)', xLabel: 'N [cph] LabC', yLabel: 'N [cph] FINAPP3',
  xDomain: [6488, 11213], yDomain: [870, 1588],
  xTicks: [7000, 8000, 9000, 10000, 11000], xMinor: [6500, 7500, 8500, 9500, 10500],
  yTicks: [1000, 1200, 1400], yMinor: [900, 1100, 1300, 1500],
  hourly: finVsLab1h, sixHourly: finVsLab6h,
  r2: [['1 h', '0.87'], ['6 h', '0.96']], r2x: 101.7, r2y: 407
}));

timePanel(Object.assign({}, row1, colB, {
  title: '(b)', base: new Date(2021, 5, 7), dayDomain: [-44.5, 169.5], ticks: seasonTicks,
  start: bStartDay, step: 1, lineWidth: 1.9,
  series: [{ values: bFINAPP3, color: colTeal }, { values: bCRS2000, color: colTan }],
  legend: [{ name: 'CRS2000', color: colTan }, { name: 'FINAPP3', color: colTeal }]
}));
timePanel(Object.assign({}, row1, colC, {
  title: '(c)', base: new Date(2021, 6, 18), dayDomain: [-2.93, 6.78], ticks: cTicks,
  start: cStartDay, step: 0.125, lineWidth: 1.4,
  series: [{ values: cFINAPP3, color: colTeal }, { values: cCRS2000, color: colTan }],
  legend: [{ name: 'CRS2000', color: colTan }, { name: 'FINAPP3', color: colTeal }]
}));
timePanel(Object.assign({}, row2, colB, {
  title: '(e)', base: new Date(2021, 5, 7), dayDomain: [-44.5, 169.5], ticks: seasonTicks,
  start: eStartDay, step: 1, lineWidth: 1.9,
  series: [{ values: eFINAPP3, color: colTeal }, { values: eLabC, color: colTan }],
  legend: [{ name: 'FINAPP3', color: colTeal }, { name: 'Lab-C', color: colTan }]
}));
timePanel(Object.assign({}, row2, colC, {
  title: '(f)', base: new Date(2021, 5, 28), dayDomain: [-2.93, 6.78], ticks: fTicks,
  start: fStartDay, step: 0.125, lineWidth: 1.4,
  series: [{ values: fFINAPP3, color: colTeal }, { values: fLabC, color: colTan }],
  legend: [{ name: 'FINAPP3', color: colTeal }, { name: 'Lab-C', color: colTan }]
}));
</script>
</body>
</html>
